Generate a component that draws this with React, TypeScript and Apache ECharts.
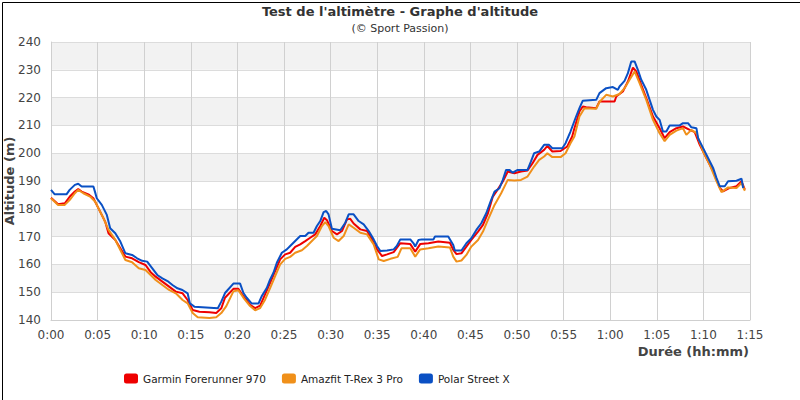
import React from "react";
import * as echarts from "echarts";

// [minutes, altitude m]
const garmin: [number, number][] = [
  [0, 184], [0.76, 181.6], [1.48, 182], [2.02, 184.4], [2.56, 186.2], [2.92, 187.1], [3.29, 186.2],
  [4.01, 185.2], [4.55, 183.8], [4.91, 181.4], [5.27, 179], [5.81, 175.4], [6.17, 171.2], [6.9, 168.8],
  [7.44, 165.8], [7.98, 162.8], [8.7, 162.2], [9.42, 160.8], [10.14, 159.8], [10.69, 157.2], [11.23, 155.6],
  [11.95, 153.8], [12.67, 152], [13.39, 150.2], [14.12, 149.6], [14.66, 147.2], [15.2, 143.6], [15.92, 143],
  [17, 142.8], [17.73, 142.5], [18.27, 144.2], [18.67, 148], [19.57, 151.2], [20.1, 151.2], [20.65, 148.5],
  [21.36, 145.5], [21.9, 144.3], [22.44, 145.2], [22.97, 149.2], [23.51, 153.4], [24.05, 157.6], [24.59, 161.8],
  [25.13, 163.6], [25.66, 164.2], [26.2, 166.3], [26.74, 167.2], [27.28, 168.4], [27.81, 169.6], [28.35, 170.8],
  [28.89, 173.8], [29.32, 176.8], [29.61, 175.9], [30.14, 172], [30.68, 170.8], [31.22, 172], [31.76, 176.2],
  [32.11, 176.4], [32.47, 174.7], [33.19, 172.6], [33.91, 172], [34.44, 169], [34.98, 165.4], [35.52, 163],
  [36.06, 163.6], [36.77, 164.4], [37.48, 167.6], [38.55, 167.3], [39.08, 164.6], [39.61, 167.3], [40.5, 167.6],
  [41.56, 168.2], [42.8, 167.8], [43.16, 165.2], [43.51, 163.7], [44.04, 164], [44.57, 166.4], [45.1, 168.8],
  [45.82, 171.8], [46.35, 174.2], [46.88, 178.4], [47.41, 184.4], [47.94, 187], [48.48, 189.8], [49.01, 193.4],
  [49.72, 192.8], [50.43, 193.4], [51.13, 193.8], [51.67, 196.4], [52.2, 199.4], [52.91, 201.2], [53.26, 202.6],
  [53.79, 200.6], [54.68, 200.8], [55.39, 202.4], [55.92, 206], [56.16, 209], [56.7, 215], [57.06, 216.8],
  [57.42, 216.5], [58.5, 216.2], [58.85, 218.6], [60.47, 218.6], [60.65, 220.4], [61.36, 222.2], [61.9, 225.8],
  [62.44, 230.8], [62.8, 229.4], [63.33, 224.6], [63.87, 219.8], [64.59, 213.2], [65.3, 209], [65.84, 205.4],
  [66.38, 207.6], [67.1, 209], [67.81, 209.6], [68.53, 208.4], [69.07, 207.6], [69.61, 203], [70.32, 198.3],
  [71.04, 193.5], [71.76, 187.5], [72.11, 186.3], [72.83, 187.5], [73.55, 188.1], [74.09, 189.9], [74.45, 186.9],
];

const amazfit: [number, number][] = [
  [0, 183.8], [0.76, 181.4], [1.48, 181.4], [2.02, 183.2], [2.56, 185.6], [2.92, 186.8], [3.47, 185.6],
  [4.19, 184.4], [4.73, 182.6], [5.09, 180.2], [5.63, 176.6], [6.17, 172.4], [6.9, 168.8], [7.44, 165.2],
  [7.98, 161.6], [8.7, 160.8], [9.42, 158.6], [10.14, 158], [10.69, 156.2], [11.23, 154.4], [11.95, 152.6],
  [12.67, 150.8], [13.39, 149.6], [14.12, 147.2], [14.66, 146], [15.2, 142.5], [15.74, 141], [17, 140.7],
  [17.73, 141], [18.27, 142.5], [18.81, 145], [19.57, 150.3], [20.1, 150.7], [20.65, 148], [21.36, 145],
  [21.9, 143.5], [22.44, 144.3], [22.97, 147.3], [23.51, 151.5], [24.05, 155.8], [24.59, 160], [25.13, 162],
  [25.66, 162.7], [26.2, 164.2], [26.92, 165.1], [27.46, 166.6], [27.99, 168.4], [28.53, 170.2], [29.07, 173.8],
  [29.43, 175.2], [29.78, 173.8], [30.32, 169.6], [30.86, 168.4], [31.4, 170.2], [31.94, 174.4], [32.47, 173.2],
  [33.19, 171.4], [33.91, 170.8], [34.62, 167.2], [35.16, 161.8], [35.7, 161.2], [36.42, 162], [37.2, 162.7],
  [37.6, 165.8], [38.55, 165.8], [39.08, 162.8], [39.61, 165.4], [40.5, 165.8], [41.56, 166.4], [42.8, 166.1],
  [43.16, 162.8], [43.51, 161], [44.04, 161.4], [44.57, 163.4], [45.1, 166.4], [45.82, 168.8], [46.35, 171.8],
  [46.88, 176], [47.59, 181.4], [48.3, 185.6], [49.01, 190.4], [49.72, 190.2], [50.43, 190.4], [51.13, 191.6],
  [51.84, 195.2], [52.38, 197.6], [52.91, 198.8], [53.26, 200], [53.79, 198.6], [54.68, 198.6], [55.21, 200],
  [55.74, 203.6], [56.16, 206], [56.7, 213.2], [57.24, 216.2], [58.5, 216], [58.85, 218.4], [59.57, 221],
  [60.29, 220.4], [61, 221.3], [61.54, 223.4], [62.08, 226.4], [62.62, 229.4], [63.15, 225.2], [63.87, 219.2],
  [64.59, 212], [65.3, 207.2], [65.84, 204.3], [66.38, 206.6], [67.1, 208.1], [67.81, 209], [68.17, 206.6],
  [68.71, 208.4], [69.25, 207.2], [69.96, 200.7], [70.68, 195.9], [71.4, 190], [71.94, 186], [72.65, 187.7],
  [73.55, 187.5], [74.09, 189.3], [74.45, 186.5],
];

const polar: [number, number][] = [
  [0, 186.8], [0.4, 185.2], [1.66, 185.2], [2, 186.8], [2.56, 188.6], [2.92, 189], [3.29, 188], [4.55, 188],
  [4.73, 186], [4.91, 183.8], [5.45, 181.4], [5.99, 177.8], [6.35, 173], [6.9, 171.2], [7.44, 168.2], [7.98, 164],
  [8.7, 163.4], [9.24, 162.2], [9.78, 161.3], [10.32, 161], [10.87, 158.6], [11.4, 156.2], [11.95, 155],
  [12.5, 154], [13.03, 152.6], [13.57, 151.4], [14.1, 150.8], [14.66, 149.6], [14.9, 146], [15.38, 144.8],
  [17.9, 144.2], [18.27, 146.6], [18.67, 149.7], [19.57, 153.1], [20.29, 153.1], [20.65, 149.7], [21, 148],
  [21.54, 145.9], [22.26, 145.9], [22.6, 148.5], [23.15, 151.5], [23.5, 154.5], [23.87, 157], [24.23, 160.6],
  [24.77, 164.2], [25.3, 165.4], [25.66, 166.6], [26.2, 168.4], [26.74, 170.2], [27.28, 170.2], [27.63, 171.4],
  [28.17, 171.4], [28.53, 173.8], [28.89, 175.6], [29.25, 178.8], [29.53, 179.2], [29.78, 178], [30.14, 172.8],
  [31.04, 172.3], [31.58, 175], [31.94, 178], [32.47, 178], [33.01, 175.6], [33.55, 174.4], [34.09, 172],
  [34.62, 169], [34.98, 166.6], [35.34, 164.8], [36.06, 165], [36.77, 165.4], [37.1, 166.6], [37.48, 169],
  [38.55, 169], [38.9, 167.6], [39.08, 166.4], [39.43, 168.8], [39.79, 169], [41.03, 169], [41.2, 170],
  [42.62, 170], [43.16, 167], [43.33, 165], [44.04, 165], [44.57, 167.6], [45.1, 169.4], [45.64, 172.4],
  [46.17, 174.8], [46.7, 178.4], [47.23, 183.2], [47.59, 186.2], [48.12, 187.4], [48.48, 190.4], [48.83, 194],
  [49.18, 194], [49.54, 193], [50.07, 194], [51.13, 194], [51.49, 197], [51.84, 200], [52.38, 200.6],
  [52.91, 203], [53.44, 203], [53.79, 201.8], [54.86, 201.8], [55.21, 203.6], [55.74, 207.8], [56.34, 213.2],
  [56.7, 216.2], [57.06, 218.9], [58.5, 219.2], [58.85, 221.6], [59.57, 223.4], [60.29, 223.8], [60.82, 222.8],
  [61, 224], [61.54, 226], [61.9, 228.8], [62.26, 233], [62.62, 233], [62.97, 230], [63.33, 226.4],
  [63.87, 222.8], [64.23, 219.2], [64.59, 215.6], [64.95, 213.2], [65.3, 212], [65.66, 207.8], [66.02, 207.8],
  [66.38, 210], [67.46, 210], [67.81, 210.8], [68.35, 210.8], [68.71, 209.3], [69.25, 209], [69.43, 205.4],
  [69.96, 201.9], [70.5, 198.3], [71.04, 194.7], [71.4, 191.1], [71.76, 188.1], [72.29, 188.1], [72.65, 189.9],
  [73.55, 190.1], [74.09, 190.8], [74.27, 187.5],
];

const seriesNames = ["Garmin Forerunner 970", "Amazfit T-Rex 3 Pro", "Polar Street X"];
const seriesColors = ["#ee0000", "#f0901a", "#0a50c4"];

const fmtMinutes = (m: number) => `${Math.floor(m / 60)}:${String(m % 60).padStart(2, "0")}`;

export default function App() {
  const chartRef = React.useRef<HTMLDivElement>(null);

  React.useEffect(() => {
    if (!chartRef.current) return;
    const chart = echarts.init(chartRef.current, undefined, { renderer: "svg" });
    const font = "DejaVu Sans";
    chart.setOption({
      animation: false,
      textStyle: { fontFamily: font },
      title: [
        {
          text: "Test de l'altimètre - Graphe d'altitude",
          left: "center",
          top: 0,
          textStyle: { fontSize: 13, fontWeight: "bold", color: "#333", fontFamily: font },
        },
        {
          text: "(© Sport Passion)",
          left: "center",
          top: 18,
          textStyle: { fontSize: 11, fontWeight: "normal", color: "#333", fontFamily: font },
        },
      ],
      legend: {
        left: 119,
        top: 368,
        itemWidth: 14,
        itemHeight: 10,
        itemGap: 16,
        icon: "roundRect",
        textStyle: { fontSize: 10.5, color: "#222", fontFamily: font },
        data: seriesNames,
      },
      grid: { left: 51, right: 50, top: 42, bottom: 80, outerBoundsMode: "none", containLabel: false },
      xAxis: {
        type: "value",
        min: 0,
        max: 75,
        interval: 5,
        axisLine: { lineStyle: { color: "#cfcfcf" } },
        axisTick: { show: false },
        axisLabel: { formatter: fmtMinutes, fontSize: 12, color: "#444", margin: 9, fontFamily: font },
        splitLine: { show: true, lineStyle: { color: "#d0d0d0" } },
      },
      yAxis: {
        type: "value",
        min: 140,
        max: 240,
        interval: 10,
        name: "Altitude (m)",
        nameLocation: "middle",
        nameGap: 35,
        nameMoveOverlap: false,
        nameTextStyle: { fontSize: 13, fontWeight: "bold", color: "#444", fontFamily: font },
        axisLine: { show: true, lineStyle: { color: "#cfcfcf" } },
        axisTick: { show: false },
        axisLabel: { fontSize: 12, color: "#444", margin: 10, fontFamily: font },
        splitLine: { show: true, lineStyle: { color: "#dcdcdc" } },
        splitArea: { show: true, areaStyle: { color: ["#ffffff", "#f2f2f2"] } },
      },
      graphic: [
        {
          type: "text",
          right: 51,
          top: 345,
          style: { text: "Durée (hh:mm)", fontSize: 13, fontWeight: "bold", fill: "#444", fontFamily: font },
        },
        {
          type: "rect",
          left: 0,
          top: 0,
          shape: { x: 0.5, y: 0.5, width: 799, height: 399 },
          style: { fill: "none", stroke: "#000", lineWidth: 1 },
          silent: true,
        },
      ],
      series: [garmin, amazfit, polar].map((data, i) => ({
        name: seriesNames[i],
        type: "line",
        data,
        showSymbol: false,
        symbol: "none",
        lineStyle: { width: 2, color: seriesColors[i] },
        itemStyle: { color: seriesColors[i] },
      })),
    });
    return () => chart.dispose();
  }, []);

  return <div ref={chartRef} style={{ width: 800, height: 400, position: "absolute", left: 0, top: 0 }} />;
}
